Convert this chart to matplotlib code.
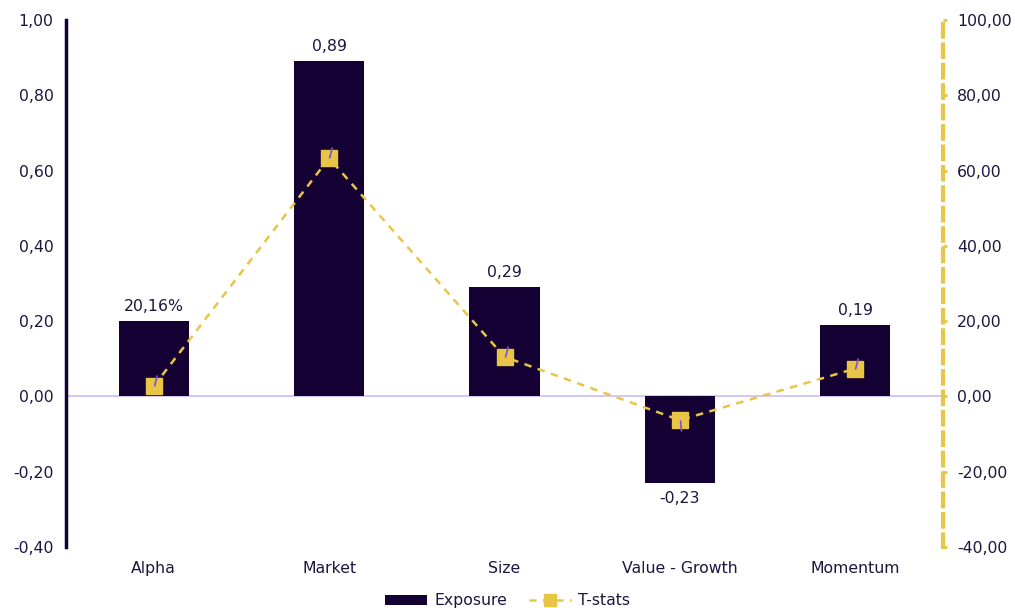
import matplotlib.pyplot as plt
import numpy as np
from matplotlib.path import Path
from matplotlib.patches import Patch
from matplotlib.lines import Line2D
from matplotlib.ticker import FuncFormatter

categories = ["Alpha", "Market", "Size", "Value - Growth", "Momentum"]
exposure = [0.2016, 0.89, 0.29, -0.23, 0.19]
exposure_labels = ["20,16%", "0,89", "0,29", "-0,23", "0,19"]
tstats = [2.7, 63.3, 10.5, -6.3, 7.4]

navy = "#140033"
txt = "#1e1640"
yellow = "#e8c547"
lav = "#cbbcf7"
purple = "#7b4fd6"

plt.rcParams['font.family'] = ['DejaVu Sans']
fs = 11.3

def fmt(v, p):
    return f"{v:.2f}".replace(".", ",").replace("-0,00", "0,00")

fig = plt.figure(figsize=(10.15, 6.08), dpi=100)
ax = fig.add_axes([66/1015, 1-547/608, (943-66)/1015, (547-20)/608])
x = np.arange(len(categories))

ax.bar(x, exposure, width=0.4, color=navy, zorder=2)
ax.axhline(0, color=lav, lw=1.2, zorder=1)
ax.set_xlim(-0.5, 4.5)
ax.set_ylim(-0.4, 1.0)
ax.set_yticks(np.arange(-0.4, 1.01, 0.2))
ax.yaxis.set_major_formatter(FuncFormatter(fmt))
ax.set_xticks(x)
ax.set_xticklabels(categories)
ax.tick_params(axis='both', length=0, colors=txt, labelsize=fs)
ax.tick_params(axis='x', pad=10)
ax.tick_params(axis='y', pad=9)
for s in ["top", "right", "bottom"]:
    ax.spines[s].set_visible(False)
ax.spines["left"].set_color(navy)
ax.spines["left"].set_linewidth(2.5)

for xi, v, lab in zip(x, exposure, exposure_labels):
    if v >= 0:
        ax.annotate(lab, (xi, v), xytext=(0, 5), textcoords="offset points",
                    ha="center", va="bottom", color=txt, fontsize=fs)
    else:
        ax.annotate(lab, (xi, v), xytext=(0, -6), textcoords="offset points",
                    ha="center", va="top", color=txt, fontsize=fs)

ax2 = ax.twinx()
ax2.set_ylim(-40, 100)
ax2.set_yticks(np.arange(-40, 101, 20))
ax2.yaxis.set_major_formatter(FuncFormatter(fmt))
for s in ["top", "left", "bottom"]:
    ax2.spines[s].set_visible(False)
ax2.spines["right"].set_color(yellow)
ax2.spines["right"].set_linewidth(3)
ax2.spines["right"].set_linestyle((0, (3, 1.9)))
ax2.tick_params(axis='y', length=3, width=2, color=yellow, labelcolor=txt, labelsize=fs, pad=7)

line, = ax2.plot(x, tstats, color=yellow, lw=1.8, ls=(0, (3, 2.6)), marker="s",
                 markersize=11.5, markerfacecolor=yellow, markeredgecolor=yellow, zorder=3)
up = Path([(0, 0), (0.25, 1)])
down = Path([(0, 0), (0.1, -1)])
for xi, t in zip(x, tstats):
    ax2.plot([xi], [t], marker=down if t < 0 else up, markersize=16,
             markeredgecolor=purple, markeredgewidth=1.2, ls="none", zorder=4)

h = [Patch(facecolor=navy, label="Exposure"),
     Line2D([], [], color=yellow, lw=1.8, ls=(0, (2.8, 2.6)), marker="s", markersize=8,
            markerfacecolor=yellow, markeredgecolor=yellow, label="T-stats")]
fig.legend(handles=h, loc="lower center", bbox_to_anchor=(0.5, -0.024), ncol=2, frameon=False,
           fontsize=fs, labelcolor=txt, handlelength=2.7, handleheight=0.55, columnspacing=1.4,
           handletextpad=0.45)

fig.savefig("out.png", dpi=100)
